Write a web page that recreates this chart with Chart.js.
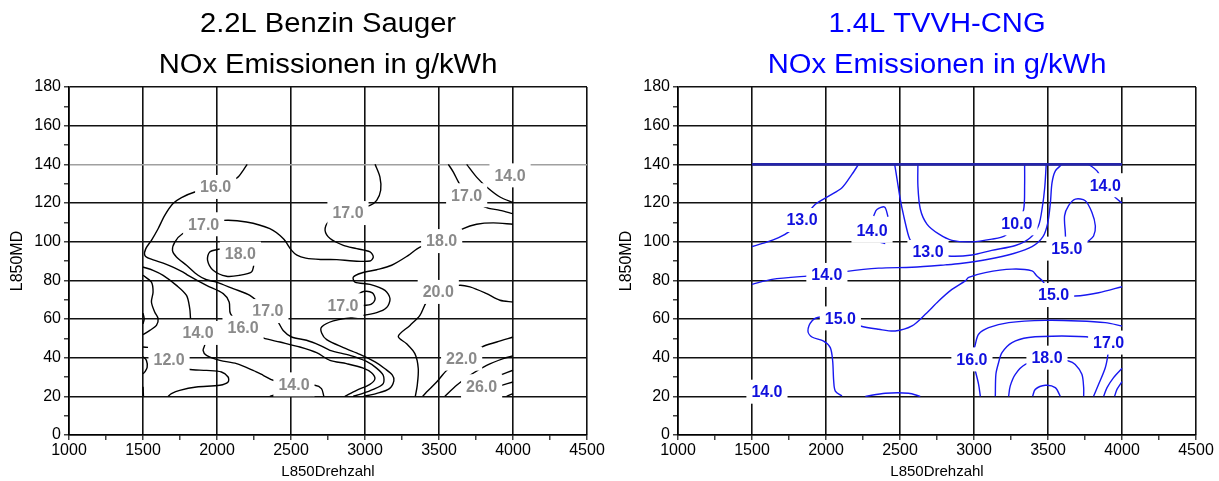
<!DOCTYPE html>
<html>
<head>
<meta charset="utf-8">
<script src="https://cdn.jsdelivr.net/npm/chart.js@4.4.0/dist/chart.umd.min.js"></script>
<style>
  body { margin: 0; background: #fff; }
  .wrap { position: relative; width: 1219px; height: 481px; }
  canvas { position: absolute; top: 0; }
</style>
</head>
<body>
<div class="wrap">
  <canvas id="benzin" width="609" height="481" style="left:0"></canvas>
  <canvas id="cng" width="610" height="481" style="left:609px"></canvas>
</div>
<script>
// Achsen
const xTickValues = [1000, 1250, 1500, 1750, 2000, 2250, 2500, 2750, 3000, 3250, 3500, 3750, 4000, 4250, 4500];
const xLabelValues = [1000, 1500, 2000, 2500, 3000, 3500, 4000, 4500];
const yTickValues = [0, 10, 20, 30, 40, 50, 60, 70, 80, 90, 100, 110, 120, 130, 140, 150, 160, 170, 180];
const yLabelValues = [0, 20, 40, 60, 80, 100, 120, 140, 160, 180];

// 2.2L Benzin Sauger - Isolinien [Drehzahl, MD]
const b16 = [[2204,140],[2177,136.9],[2135,133],[1991,128.3],[1850,125.7],[1760,122.8],[1703,119.7],[1647,113.6],[1602,106.7],[1557,100.7],[1519,96.4],[1512,93],[1546,91.2],[1658,88.3],[1771,84.3],[1805,82.6],[1929,77.4],[2042,73.1],[2082,68.8],[2091,62.8],[2176,55.5],[2312,50.2],[2425,48.1],[2560,45.5],[2673,42.6],[2763,38.6],[2875,36.9],[2988,34.6],[3044,32.2],[3067,29.1],[3033,26.2],[2943,23.1],[2864,20]];
const b17 = [[3068,140],[3101,133.4],[3106,126.6],[3079,121.4],[3034,118.8],[2885,114.8],[2752,110.2],[2730,105.9],[2764,101.6],[2854,98.1],[2944,96.4],[3034,94.7],[3056,92.1],[3034,90],[2921,90],[2809,90.7],[2700,90.8],[2600,91.5],[2540,93],[2504,95.5],[2447,101.6],[2357,106.7],[2199,110.2],[2041,111],[1910,109],[1767,104.1],[1715,99.8],[1699,95.5],[1726,92.1],[1794,87.8],[1872,82.6],[1929,80.3],[1996,79.1],[2109,75.7],[2222,72.2],[2344,64.1],[2413,58.4],[2447,54.1],[2504,50.7],[2605,49],[2695,46.4],[2763,43.8],[2898,41.2],[3010,38.1],[3078,34.6],[3123,30.9],[3123,26.6],[3056,23.6],[2965,21],[2920,20]];
const b18 = [[4000,109],[3867,109.7],[3754,109],[3664,106.7],[3518,100.3],[3372,97.2],[3293,92.9],[3180,87.8],[3079,85.5],[2977,83.8],[2921,81.7],[2932,79.1],[3034,77.9],[3135,74.8],[3169,70.5],[3146,65.9],[3079,63.3],[2921,61],[2786,59],[2707,55.9],[2707,52.8],[2741,49.3],[2854,45.2],[2966,41.7],[3068,37.8],[3135,34.3],[3185,31],[3195,28],[3165,24],[3080,21.5],[2990,20]];
const b18loop = [[2019,96.2],[1951,94.7],[1936,90.4],[1974,85.2],[2064,82.1],[2154,82.6],[2233,84.3],[2249,87.8]];
const b17hook = [[2940,72],[2990,74.2],[3050,73.5],[3068,70.2],[3040,67.6],[2990,67]];
const b17top = [[3563,140],[3597,136],[3631,130.9],[3687,124],[3811,117.9],[3912,116.2],[4000,114.5]];
const b14top = [[3687,140],[3754,133.4],[3822,128.3],[3912,123.1],[4000,120.2]];
const b20 = [[4000,68.8],[3912,69.7],[3822,73.1],[3709,76.6],[3631,77.4],[3495,74],[3416,68.8],[3371,61.9],[3304,56.7],[3225,51],[3281,47.2],[3337,42.1],[3360,34.3],[3353,25.7],[3340,20]];
const b22 = [[4000,50.7],[3890,48.1],[3788,45.5],[3653,39.5],[3551,33.4],[3484,27.4],[3416,22.2],[3390,20]];
const b24 = [[3540,20],[3619,25.7],[3709,30.9],[3822,36],[3934,39.5],[4000,40.9]];
const b26a = [[3923,31.2],[4000,33.5]];
const b26b = [[3923,25.7],[4000,27.4]];
const b26c = [[3957,20],[4000,21.4]];
const b15a = [[1500,86.9],[1568,85.2],[1636,82.6],[1726,77.4],[1794,72.2],[1816,65.3],[1821,60.2]];
const b15b = [[1500,82.6],[1557,79.1],[1568,74],[1557,68.8],[1579,63.6],[1602,60.2],[1591,56.7],[1546,54.1],[1500,51.9]];
const b13a = [[1500,63],[1508,60],[1500,57.5]];
const b13b = [[1500,45.5],[1534,45.3]];
const b11 = [[1500,40.5],[1523,38.6],[1528,35],[1512,32.6],[1500,31.7]];
const b12 = [[1760,35.5],[1805,34],[1929,33.4],[2030,32.6],[2075,30],[2075,27.4],[2019,25.7],[1861,24.8],[1748,23.1],[1692,21.4],[1670,20]];
const b14 = [[1872,52.8],[1918,47.2],[1906,43.8],[1929,41.2],[2019,38.6],[2132,36.9],[2244,33.4],[2312,30.9],[2380,28.3],[2520,26.2],[2661,25.7],[2706,24],[2722,20]];
const b14bump = [[2357,20],[2425,21.4],[2515,21.9],[2605,20.9],[2650,20]];
const b12edge = [[1500,25],[1503,20]];

const benzinLabelText = ['16.0','17.0','18.0','17.0','17.0','14.0','18.0','20.0','17.0','17.0','16.0','14.0','12.0','14.0','22.0','26.0'];
const benzinLabelX = [1991, 1910, 2158, 2885, 3687, 3980, 3518, 3495, 2851, 2344, 2176, 1872, 1676, 2520, 3653, 3788];
const benzinLabelY = [128.3, 109, 93.8, 114.8, 124, 134.3, 100.3, 74, 67.1, 64.1, 55.5, 52.8, 39, 26.2, 39.5, 25.2];

// 1.4L TVVH-CNG - Isolinien [Drehzahl, MD]
const cBorder = [[1500,140],[4000,140]];
const c13a = [[2220,140],[2175,134.8],[2108,127.9],[2018,123.6],[1928,119.3],[1838,111.2],[1759,105.6],[1680,102.1],[1590,99.5],[1500,97.5]];
const c14hook = [[2322,113.3],[2344,116.6],[2396,117.9],[2419,112.9]];
const c14tick = [[2367,99.7],[2400,99]];
const c13b = [[2464,140],[2480,132.4],[2502,121.9],[2525,113.3],[2558,102.9],[2574,100.4],[2689,94.7],[2824,92.6],[2986,93.1],[3120,95.5],[3280,98],[3380,102],[3437,108.5],[3462,118],[3478,128],[3488,140]];
const c10 = [[2621,140],[2621,128.9],[2637,116.9],[2682,109.1],[2761,104],[2851,100.7],[2986,99.9],[3121,101.3],[3207,103],[3290,109.5],[3335,116.5],[3342,128.9],[3342,140]];
const c14 = [[1500,77.9],[1635,80.5],[1871,82.2],[2006,82.8],[2130,84.5],[2356,86.3],[2581,86.8],[2806,88],[2908,88.7],[3088,90.8],[3268,93.9],[3392,97.4],[3466,102.6],[3498,109.6],[3516,120],[3527,130.4],[3549,136.5],[3594,140]];
const c15loop = [[3620,99],[3617,104.6],[3612,113.3],[3639,118.6],[3685,122],[3752,121.2],[3797,115.1],[3820,108.1],[3808,102.9],[3775,100.4],[3740,98.5]];
const c14top = [[3775,140],[3831,136.6],[3887,129.2],[3955,122.8],[4000,120]];
const c15 = [[4000,76.7],[3842,73.6],[3684,71.9],[3538,72.4],[3459,80],[3425,82.2],[3392,84.9],[3257,85.8],[3076,84],[2964,81.5],[2941,79.7],[2851,75.3],[2761,69.3],[2671,62.4],[2581,56.4],[2468,53.8],[2356,54.7],[2232,56.4],[2097,60.3],[1961,61],[1905,59],[1878,53.8],[1905,50.7],[1984,48.6],[2029,45.2],[2045,38.3],[2052,27.9],[2063,22.7],[2108,20.2]];
const c15bump = [[2266,20],[2401,21.6],[2558,21.6],[2637,20]];
const c16 = [[4000,56.4],[3887,58.1],[3707,59],[3482,59.3],[3234,58.1],[3099,55.5],[3031,52.1],[3009,46.9],[2986,39.1],[3009,33.1],[3031,26.2],[3043,20]];
const c17 = [[3144,20],[3148,31.4],[3166,37.4],[3189,42.6],[3257,47.8],[3369,50.4],[3594,51.2],[3797,50.4],[3910,47.8],[3905,41.7],[3887,34.8],[3842,26.2],[3808,20]];
const c18 = [[3234,20],[3245,25.4],[3279,31.4],[3347,36.5],[3493,40],[3639,38.3],[3684,36.5],[3729,31.4],[3741,24.5],[3741,20]];
const c19 = [[3396,20],[3414,23.6],[3482,25.7],[3549,24.5],[3583,20]];
const c20a = [[4000,34.5],[3943,29.7],[3899,24.5],[3876,20]];
const c20b = [[4000,27.6],[3966,23.6],[3950,20]];

const cngLabelText = ['13.0','14.0','13.0','10.0','15.0','14.0','14.0','15.0','15.0','16.0','18.0','17.0','14.0'];
const cngLabelX = [1838, 2311, 2689, 3290, 3628, 3887, 2006, 3538, 2097, 2986, 3493, 3910, 1601];
const cngLabelY = [111.2, 105.6, 94.7, 109.5, 96.4, 129.2, 82.8, 72.4, 60.3, 39.1, 40, 47.8, 22.4];

const FONT = '"Liberation Sans", Arial, Helvetica, sans-serif';

const contourLabels = {
    id: 'contourLabels',
    afterDatasetsDraw(chart, args, opts) {
        const { ctx } = chart;
        const xs = chart.scales.x, ys = chart.scales.y;
        ctx.save();
        ctx.font = 'bold 16px ' + FONT;
        ctx.textAlign = 'center';
        ctx.textBaseline = 'middle';
        opts.text.forEach((t, i) => {
            const px = xs.getPixelForValue(opts.xs[i]);
            const py = ys.getPixelForValue(opts.ys[i]);
            const w = ctx.measureText(t).width + 10;
            ctx.fillStyle = '#fff';
            ctx.fillRect(px - w / 2, py - 12, w, 24);
            ctx.fillStyle = opts.color;
            ctx.fillText(t, px, py + 1);
        });
        ctx.restore();
    }
};

const chartTitles = {
    id: 'chartTitles',
    afterDraw(chart, args, opts) {
        const { ctx, chartArea } = chart;
        const cx = (chartArea.left + chartArea.right) / 2;
        ctx.save();
        ctx.fillStyle = opts.color;
        ctx.font = '27px ' + FONT;
        ctx.textAlign = 'center';
        ctx.textBaseline = 'alphabetic';
        opts.text.forEach((t, i) => {
            ctx.save();
            ctx.translate(cx, [32, 72.5][i]);
            ctx.scale(1.08, 1);
            ctx.fillText(t, 0, 0);
            ctx.restore();
        });
        ctx.restore();
    }
};

function makeLines(lines, color, width) {
    return lines.map(pts => ({
        data: pts.map(([x, y]) => ({ x, y })),
        borderColor: color,
        borderWidth: width,
        pointRadius: 0,
        tension: 0.3,
        fill: false
    }));
}

function contourChart(id, datasets, cfg) {
    const gridColor = (c) => {
        const v = c.tick ? c.tick.value : null;
        if (v === 140 && cfg.grey140) return '#a0a0a0';
        return yLabelValues.includes(v) ? '#111' : 'rgba(0,0,0,0)';
    };
    return new Chart(document.getElementById(id), {
        type: 'line',
        data: { datasets },
        options: {
            responsive: false,
            animation: false,
            devicePixelRatio: 1,
            events: [],
            layout: { padding: { top: 87, right: cfg.padRight, left: 0, bottom: 0 } },
            scales: {
                x: {
                    type: 'linear', min: 1000, max: 4500,
                    afterBuildTicks: s => { s.ticks = xTickValues.map(v => ({ value: v })); },
                    afterFit: s => { s.height = 46; },
                    ticks: {
                        autoSkip: false, maxRotation: 0, padding: 1, color: '#000',
                        font: { family: FONT, size: 16 },
                        callback: v => xLabelValues.includes(v) ? String(v) : ''
                    },
                    grid: {
                        color: c => { const v = c.tick ? c.tick.value : null; return xLabelValues.includes(v) ? '#111' : 'rgba(0,0,0,0)'; },
                        lineWidth: 1.6, tickColor: '#111', tickLength: 5, tickWidth: 1.2
                    },
                    border: { display: true, color: '#000', width: 1.6 },
                    title: { display: true, text: 'L850Drehzahl', color: '#000', font: { family: FONT, size: 15 }, padding: { top: 0, bottom: 0 } }
                },
                y: {
                    type: 'linear', min: 0, max: 180,
                    afterBuildTicks: s => { s.ticks = yTickValues.map(v => ({ value: v })); },
                    afterFit: s => { s.width = 69; },
                    ticks: {
                        autoSkip: false, padding: 3, color: '#000',
                        font: { family: FONT, size: 16 },
                        callback: v => yLabelValues.includes(v) ? String(v) : ''
                    },
                    grid: {
                        color: gridColor, lineWidth: 1.6, tickColor: '#111', tickLength: 5, tickWidth: 1.2
                    },
                    border: { display: true, color: '#000', width: 1.6 },
                    title: { display: true, text: 'L850MD', color: '#000', font: { family: FONT, size: 16 }, padding: { top: 8, bottom: 0 } }
                }
            },
            plugins: {
                legend: { display: false },
                tooltip: { enabled: false },
                contourLabels: { text: cfg.labelText, xs: cfg.labelX, ys: cfg.labelY, color: cfg.labelColor },
                chartTitles: { text: cfg.title, color: cfg.titleColor }
            }
        },
        plugins: [contourLabels, chartTitles]
    });
}

contourChart('benzin',
    makeLines([b16, b17, b18, b18loop, b17hook, b17top, b14top, b20, b22, b24, b26a, b26b, b26c,
               b15a, b15b, b13a, b13b, b11, b12, b14, b14bump, b12edge], '#000', 1.4),
    {
        padRight: 22, grey140: true,
        labelText: benzinLabelText, labelX: benzinLabelX, labelY: benzinLabelY, labelColor: '#8a8a8a',
        title: ['2.2L Benzin Sauger', 'NOx Emissionen in g/kWh'], titleColor: '#000'
    });

contourChart('cng',
    makeLines([cBorder], '#2424a8', 2.6).concat(
    makeLines([c13a, c14hook, c14tick, c13b, c10, c14, c15loop, c14top, c15, c15bump,
               c16, c17, c18, c19, c20a, c20b], '#1818f0', 1.4)),
    {
        padRight: 23, grey140: false,
        labelText: cngLabelText, labelX: cngLabelX, labelY: cngLabelY, labelColor: '#1010dd',
        title: ['1.4L TVVH-CNG', 'NOx Emissionen in g/kWh'], titleColor: '#0000ff'
    });
</script>
</body>
</html>
